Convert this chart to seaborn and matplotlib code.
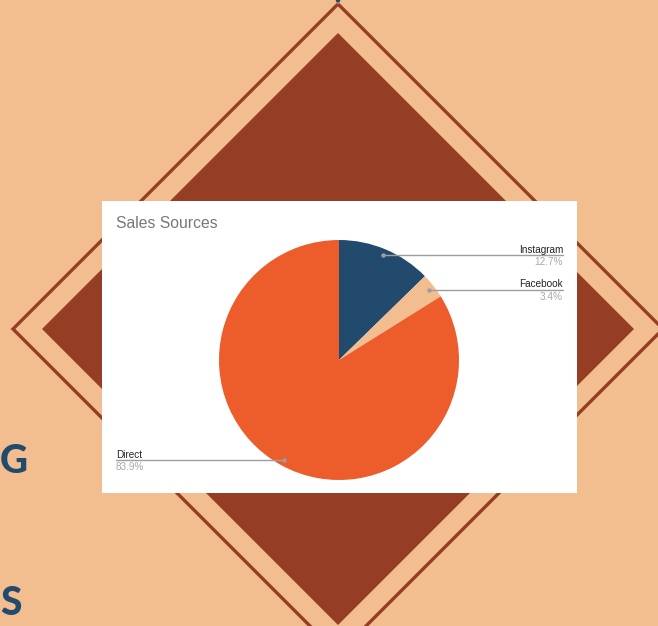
import matplotlib
matplotlib.use("Agg")
import matplotlib.pyplot as plt
from matplotlib.patches import Polygon, Rectangle, Circle
import numpy as np
import seaborn as sns

# ---- data ----
categories = ["Instagram", "Facebook", "Direct"]
shares = [12.7, 3.4, 83.9]
pct_labels = ["12.7%", "3.4%", "83.9%"]
label_side = ["right", "right", "left"]
title = "Sales Sources"

# ---- colours ----
BG = "#F2BD8F"
BROWN = "#963E23"
NAVY = "#224A6D"
ORANGE = "#EC5D2B"
slice_colors = [NAVY, BG, ORANGE]

sns.set_theme(style="white")
plt.rcParams["font.family"] = ["Liberation Sans", "DejaVu Sans"]

W, H = 658, 626
fig = plt.figure(figsize=(W / 100, H / 100), dpi=100, facecolor=BG)

# background axes in pixel coordinates
bg = fig.add_axes([0, 0, 1, 1])
bg.set_xlim(0, W)
bg.set_ylim(H, 0)
bg.axis("off")
bg.set_facecolor(BG)

cx, cy = 338, 329
outer, inner = 325, 296
bg.add_patch(Polygon([(cx, cy - outer), (cx + outer, cy), (cx, cy + outer), (cx - outer, cy)],
                     closed=True, fill=False, edgecolor=BROWN, linewidth=2.4))
bg.add_patch(Polygon([(cx, cy - inner), (cx + inner, cy), (cx, cy + inner), (cx - inner, cy)],
                     closed=True, facecolor=BROWN, edgecolor="none"))
bg.add_patch(Circle((338, 0.5), 2.2, facecolor=NAVY, edgecolor="none"))

# slide letters at the left edge
bg.text(0, 473, "G", color=NAVY, fontsize=28, fontweight="black", ha="left",
        va="baseline", family=["Lato", "DejaVu Sans"])
bg.text(0, 615, "S", color=NAVY, fontsize=28, fontweight="black", ha="left",
        va="baseline", family=["Lato", "DejaVu Sans"])

# white chart card
bg.add_patch(Rectangle((102, 201), 475, 292, facecolor="white", edgecolor="none"))
bg.text(116, 228, title, color="#777777", fontsize=11.3, ha="left", va="baseline")

# pie axes
pcx, pcy, r = 339, 360, 120
pax = fig.add_axes([(pcx - r) / W, (H - (pcy + r)) / H, 2 * r / W, 2 * r / H])
wedges, _ = pax.pie(shares, colors=slice_colors, startangle=90, counterclock=False,
                    radius=1, wedgeprops=dict(linewidth=0))
pax.set_xlim(-1, 1)
pax.set_ylim(-1, 1)
pax.set_aspect("equal")
pax.axis("off")

x_right = (563 - pcx) / r
x_left = (116 - pcx) / r
for w, name, pct, side in zip(wedges, categories, pct_labels, label_side):
    ang = np.deg2rad((w.theta1 + w.theta2) / 2)
    dx, dy = 0.95 * np.cos(ang), 0.95 * np.sin(ang)
    xe = x_right if side == "right" else x_left
    pax.plot([dx, xe], [dy, dy], color="#9E9E9E", linewidth=1.0, clip_on=False)
    pax.plot([dx], [dy], marker="o", markersize=2.2, color="#9E9E9E", clip_on=False)
    ha = "right" if side == "right" else "left"
    pax.text(xe, dy + 0.018, name, color="#222222", fontsize=7.2, ha=ha, va="baseline",
             clip_on=False)
    pax.text(xe, dy - 0.018, pct, color="#A8A8A8", fontsize=7.2, ha=ha, va="top",
             clip_on=False)

fig.savefig("out.png", dpi=100, facecolor=BG)
